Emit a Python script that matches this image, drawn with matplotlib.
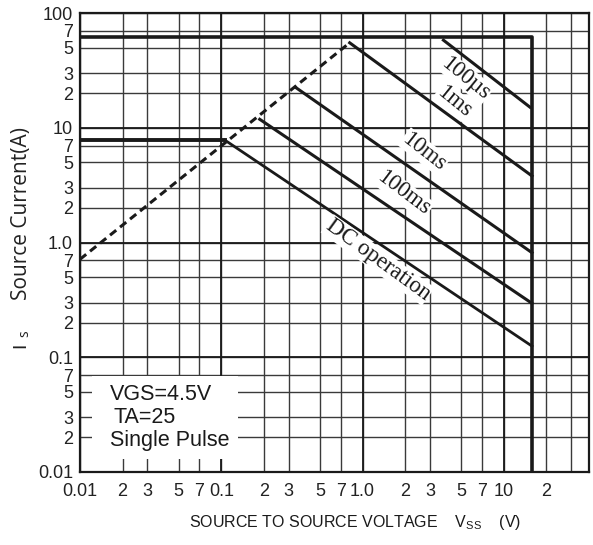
import matplotlib
matplotlib.use('Agg')
import matplotlib.pyplot as plt
from matplotlib.patches import Rectangle
from matplotlib.ticker import FixedLocator, NullFormatter, FixedFormatter

# SOA boundary (A / V)
vds_max = 15.8
idm = 62.0
bound_v = [0.01, vds_max, vds_max]
bound_i = [idm, idm, 0.01]

# Rds(on) limit (dashed)
rds_v = [0.01, 0.81]
rds_i = [0.714, 55.0]

# pulse lines
dc_v = [0.01, 0.106, vds_max]
dc_i = [7.8, 7.8, 0.125]
ms100_v = [0.187, vds_max]
ms100_i = [11.85, 0.295]
ms10_v = [0.335, vds_max]
ms10_i = [22.5, 0.815]
ms1_v = [0.81, vds_max]
ms1_i = [55.0, 3.8]
us100_v = [3.73, 15.3]
us100_i = [58.0, 15.1]

# ticks
x_ticks = [0.01, 0.02, 0.03, 0.05, 0.07, 0.1, 0.2, 0.3, 0.5, 0.7,
           1, 2, 3, 5, 7, 10, 20, 30]
x_labels = ['0.01', '2', '3', '5', '7', '0.1', '2', '3', '5', '7',
            '1.0', '2', '3', '5', '7', '10', '2', '']
y_ticks = [0.01, 0.02, 0.03, 0.05, 0.07, 0.1, 0.2, 0.3, 0.5, 0.7,
           1, 2, 3, 5, 7, 10, 20, 30, 50, 70, 100]
y_labels = ['0.01', '2', '3', '5', '7', '0.1', '2', '3', '5', '7',
            '1.0', '2', '3', '5', '7', '10', '2', '3', '5', '7', '100']
decades_x = [0.01, 0.1, 1, 10]
decades_y = [0.01, 0.1, 1, 10, 100]

W, H = 593, 545
fig = plt.figure(figsize=(W / 100, H / 100), dpi=100)
ax = fig.add_axes([80 / W, 1 - 472 / H, 509 / W, 459 / H])
ax.set_xscale('log')
ax.set_yscale('log')
ax.set_xlim(0.01, 40)
ax.set_ylim(0.01, 100)

ax.xaxis.set_major_locator(FixedLocator(x_ticks))
ax.xaxis.set_major_formatter(FixedFormatter(x_labels))
ax.xaxis.set_minor_formatter(NullFormatter())
ax.xaxis.set_minor_locator(FixedLocator([]))
ax.yaxis.set_major_locator(FixedLocator(y_ticks))
ax.yaxis.set_major_formatter(FixedFormatter(y_labels))
ax.yaxis.set_minor_locator(FixedLocator([]))
ax.tick_params(length=0, labelsize=13)
ax.tick_params(axis='x', pad=8)
ax.tick_params(axis='y', pad=5)
for lab in ax.get_xticklabels() + ax.get_yticklabels():
    lab.set_family(['Liberation Sans Narrow', 'Liberation Sans'])
    lab.set_color('#222222')

ax.set_axisbelow(True)
ax.grid(True, color='#3a3a3a', lw=1.0)
for d in decades_x:
    ax.axvline(d, color='#1a1a1a', lw=1.3, zorder=0.6)
for d in decades_y:
    ax.axhline(d, color='#1a1a1a', lw=1.3, zorder=0.6)
for s in ax.spines.values():
    s.set_linewidth(1.6)
    s.set_color('#1a1a1a')

# white patch under the condition text
ax.add_patch(Rectangle((0.01216, 0.0130), 0.132 - 0.01216, 0.0687 - 0.0130,
                       facecolor='white', edgecolor='none', zorder=1))

ax.plot(bound_v, bound_i, color='#1a1a1a', lw=2.6, zorder=3)
ax.plot(rds_v, rds_i, color='#1a1a1a', lw=2.2, ls=(0, (2.6, 1.6)), zorder=3)
ax.plot(dc_v[:2], dc_i[:2], color='#1a1a1a', lw=2.8, zorder=3)
ax.plot(dc_v[1:], dc_i[1:], color='#1a1a1a', lw=2.0, zorder=3)
for v, i in [(ms100_v, ms100_i), (ms10_v, ms10_i), (ms1_v, ms1_i), (us100_v, us100_i)]:
    ax.plot(v, i, color='#1a1a1a', lw=2.2, zorder=3)

serif = dict(family='Liberation Serif', fontsize=16.5, color='#1a1a1a',
             ha='center', va='center', rotation_mode='anchor', zorder=4,
             bbox=dict(facecolor='white', edgecolor='none', pad=0.5))
ax.text(5.37, 27.0, '100µs', rotation=-39, **serif)
ax.text(4.44, 16.9, '1ms', rotation=-39, **serif)
ax.text(2.72, 6.18, '10ms', rotation=-38, **serif)
ax.text(1.96, 2.68, '100ms', rotation=-37, **serif)
ax.text(1.28, 0.704, 'DC operation', rotation=-36, **serif)

sans = dict(family='Liberation Sans', fontsize=15.5, color='#1a1a1a',
            ha='left', va='center', zorder=4)
ax.text(0.01633, 0.0469, 'VGS=4.5V', **sans)
ax.text(0.01723, 0.0296, 'TA=25', **sans)
ax.text(0.01633, 0.0190, 'Single Pulse', **sans)

# y label: I with subscript s, then text
fig.text(22 / W, 1 - 214 / H, 'Source Current(A)',
         rotation=90, ha='center', va='center', fontsize=15,
         family='Open Sans', color='#222222')
fig.text(21 / W, 1 - 345 / H, 'I',
         rotation=90, ha='center', va='center', fontsize=14,
         family='Liberation Sans', color='#222222')
fig.text(24.5 / W, 1 - 334 / H, 's',
         rotation=90, ha='center', va='center', fontsize=10,
         family='Open Sans', color='#222222')
fig.text(355 / W, 1 - 522 / H,
         r'SOURCE TO SOURCE VOLTAGE    $\mathregular{V_{SS}}$    (V)',
         ha='center', va='center', fontsize=11.5, family='Liberation Sans',
         color='#1a1a1a')

fig.savefig('out.png', dpi=100)
